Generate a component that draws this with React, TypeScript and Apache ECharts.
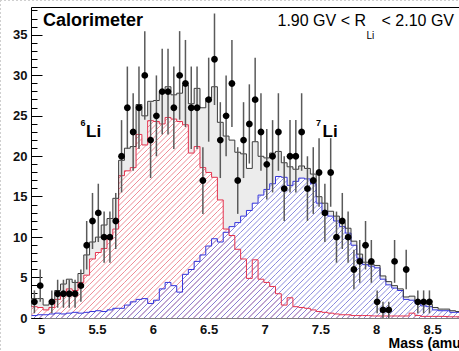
import { useEffect, useRef } from "react";
import * as echarts from "echarts";

// Histogram binning (mass in amu)
const binLow = 4.91;
const binWidth = 0.052;

// Event counts per bin (data points)
const dataCounts = [
  2, 4, 0, 2, 3, 3, 3, 3, 4, 9,
  12, 13, 10, 10, 12, 20, 26, 23, 26, 30,
  22, 25, 28, 28, 26, 30, 29, 26, 26, 17,
  27, 32, 22, 25, 29, 17, 22, 24, 27, 23,
  19, 20, 23, 16, 20, 20, 23, 16, 17, 18,
  13, 18, 10, 12, 10, 6, 7, 9, 7, 2,
  1, 1, 7, 0, 6, 0, 2, 2, 2, 0,
  0, 0, 0, 0, 0,
];

// 6Li template after fit
const li6Template = [
  1.4, 1.3, 1.0, 1.3, 2.3, 3.0, 3.6, 3.4, 4.4, 5.3,
  7.3, 8.1, 8.6, 10.2, 11.0, 17.6, 18.2, 18.6, 22.7, 21.4,
  24.4, 24.3, 24.0, 24.8, 24.6, 24.3, 23.9, 20.4, 21.2, 18.6,
  18.0, 17.4, 14.6, 11.0, 10.2, 8.5, 7.3, 4.9, 7.2, 4.8,
  4.4, 3.9, 3.0, 1.6, 2.5, 1.4, 1.3, 1.2, 1.0, 0.8,
  0.7, 0.6, 0.5, 0.4, 0.4, 0.3, 0.3, 0.3, 0.25, 0.25,
  0.25, 0.25, 0.25, 0.25, 0.25, 0.6, 0.3, 0.2, 0.2, 0.2,
  0.2, 0.15, 0.15, 0.15, 0.15,
];

// 7Li template after fit
const li7Template = [
  0.3, 0.4, 0.4, 0.5, 0.6, 0.5, 0.6, 0.7, 0.6, 0.7,
  0.8, 0.9, 0.8, 1.0, 1.2, 1.2, 1.6, 2.0, 2.3, 2.4,
  1.8, 2.2, 3.6, 4.4, 4.0, 3.2, 5.4, 6.0, 7.0, 7.8,
  8.9, 9.8, 9.4, 10.6, 11.3, 11.8, 12.6, 13.3, 14.2, 15.2,
  15.9, 16.6, 17.5, 17.4, 16.4, 16.9, 17.3, 17.2, 16.6, 14.2,
  13.2, 12.6, 12.0, 11.3, 10.5, 9.0, 7.4, 6.6, 6.4, 6.2,
  4.8, 4.1, 3.7, 3.4, 2.3, 2.2, 1.8, 1.5, 1.4, 1.0,
  0.9, 0.9, 0.7, 0.7, 0.6,
];

// Total fit
const fitTotal = [
  2.4, 2.4, 1.6, 1.8, 3.4, 4.2, 4.8, 4.4, 5.5, 7.8,
  9.4, 10.0, 11.5, 12.3, 14.8, 19.5, 21.0, 21.2, 26.4, 25.0,
  26.8, 26.9, 28.0, 28.6, 27.6, 27.8, 28.8, 26.5, 28.4, 26.0,
  27.2, 28.6, 24.2, 22.5, 22.0, 20.5, 20.3, 18.5, 21.8, 20.0,
  19.8, 20.4, 20.6, 19.2, 18.7, 18.4, 18.8, 18.5, 17.8, 15.0,
  14.2, 13.2, 12.6, 11.8, 11.1, 9.5, 7.9, 6.9, 6.6, 6.5,
  5.2, 4.5, 4.0, 3.6, 2.6, 2.7, 2.1, 1.9, 1.7, 1.3,
  1.1, 1.1, 0.9, 0.8, 0.8,
];

const xTickLabels = [5, 5.5, 6, 6.5, 7, 7.5, 8, 8.5];
const yTickLabels = [0, 5, 10, 15, 20, 25, 30, 35];

const xMin = 4.91;
const xMax = 8.81;
const yMin = 0;
const yMax = 38.4;

const FONT = "'Liberation Sans', Arial, Helvetica, sans-serif";
const HATCH_STEP = 5.5;

function stepPoints(values: number[]) {
  const pts: number[][] = [];
  values.forEach((v, i) => {
    const lo = binLow + i * binWidth;
    pts.push([lo, v], [lo + binWidth, v]);
  });
  return pts;
}

function binData(values: number[]) {
  return values.map((v, i) => [binLow + (i + 0.5) * binWidth, v]);
}

function fillSeries(values: number[], color: string) {
  return {
    type: "line",
    z: 1,
    data: stepPoints(values),
    symbol: "none",
    silent: true,
    lineStyle: { width: 0, opacity: 0 },
    areaStyle: { color, opacity: 1 },
  };
}

function outlineSeries(values: number[], color: string) {
  return {
    type: "line",
    z: 3,
    data: stepPoints(values),
    symbol: "none",
    silent: true,
    lineStyle: { width: 1, color },
  };
}

// Diagonal "/" hatching of each bin, lines continuous from bin to bin
function hatchSeries(values: number[], color: string) {
  return {
    type: "custom",
    z: 2,
    data: binData(values),
    silent: true,
    clip: true,
    renderItem: (_params: any, api: any) => {
      const mid = api.value(0);
      const v = api.value(1);
      const tl = api.coord([mid - binWidth / 2, v]);
      const br = api.coord([mid + binWidth / 2, 0]);
      const x0 = tl[0];
      const x1 = br[0];
      const yT = tl[1];
      const yB = br[1];
      const children: any[] = [];
      const cStart = Math.ceil((x0 + yT) / HATCH_STEP) * HATCH_STEP;
      for (let c = cStart; c <= x1 + yB; c += HATCH_STEP) {
        const xa = Math.max(x0, c - yB);
        const xb = Math.min(x1, c - yT);
        if (xb > xa) {
          children.push({
            type: "line",
            shape: { x1: xa, y1: c - xa, x2: xb, y2: c - xb },
            style: { stroke: color, lineWidth: 0.9 },
          });
        }
      }
      return { type: "group", children };
    },
  };
}

export default function App() {
  const ref = useRef<HTMLDivElement>(null);

  useEffect(() => {
    if (!ref.current) return;
    const chart = echarts.init(ref.current, undefined, { renderer: "svg" });

    const minorX: number[] = [];
    for (let v = 50; v <= 88; v++) minorX.push(v / 10);
    const minorY: number[] = [];
    for (let v = 0; v <= 38; v++) minorY.push(v);

    const points = dataCounts
      .map((n, i) => [binLow + (i + 0.5) * binWidth, n])
      .filter((p) => p[1] > 0);

    const labelStyle = { color: "#111", fontFamily: FONT, fontWeight: "bold", fontSize: 13 };

    chart.setOption({
      animation: false,
      backgroundColor: "#fff",
      grid: {
        left: 31.5,
        top: 7.5,
        right: 7.8,
        bottom: 33,
        show: true,
        borderColor: "#000",
        borderWidth: 1,
        backgroundColor: "transparent",
      },
      xAxis: [
        {
          type: "value",
          min: xMin,
          max: xMax,
          axisLine: { show: false },
          splitLine: { show: false },
          axisTick: { inside: true, length: 9, customValues: xTickLabels, lineStyle: { color: "#000" } },
          axisLabel: { ...labelStyle, margin: 5, customValues: xTickLabels, formatter: (v: number) => String(v) },
        },
        {
          type: "value",
          min: xMin,
          max: xMax,
          position: "bottom",
          axisLine: { show: false },
          splitLine: { show: false },
          axisTick: { inside: true, length: 4.5, customValues: minorX, lineStyle: { color: "#000" } },
          axisLabel: { show: false },
        },
      ],
      yAxis: [
        {
          type: "value",
          min: yMin,
          max: yMax,
          axisLine: { show: false },
          splitLine: { show: false },
          axisTick: { inside: true, length: 11, customValues: yTickLabels, lineStyle: { color: "#000" } },
          axisLabel: { ...labelStyle, margin: 4, customValues: yTickLabels },
        },
        {
          type: "value",
          min: yMin,
          max: yMax,
          position: "left",
          axisLine: { show: false },
          splitLine: { show: false },
          axisTick: { inside: true, length: 6, customValues: minorY, lineStyle: { color: "#000" } },
          axisLabel: { show: false },
        },
      ],
      series: [
        fillSeries(fitTotal, "#ececec"),
        fillSeries(li6Template, "#ffffff"),
        fillSeries(li7Template, "#ffffff"),
        hatchSeries(li6Template, "#ec7f8b"),
        hatchSeries(li7Template, "#7d7dd8"),
        outlineSeries(li7Template, "#3434dc"),
        outlineSeries(li6Template, "#e4324e"),
        outlineSeries(fitTotal, "#3a3a3a"),
        {
          type: "custom",
          z: 4,
          data: points,
          clip: false,
          silent: true,
          renderItem: (_params: any, api: any) => {
            const x = api.value(0);
            const n = api.value(1);
            const err = Math.sqrt(n);
            const c = api.coord([x, n]);
            const hi = api.coord([x, n + err]);
            const lo = api.coord([x, n - err]);
            return {
              type: "group",
              children: [
                {
                  type: "line",
                  shape: { x1: c[0], y1: lo[1], x2: c[0], y2: hi[1] },
                  style: { stroke: "#5a5a5a", lineWidth: 1.5 },
                },
                {
                  type: "circle",
                  shape: { cx: c[0], cy: c[1], r: 3.4 },
                  style: { fill: "#000" },
                },
              ],
            };
          },
        },
      ],
      graphic: [
        {
          type: "line",
          shape: { x1: 0, y1: 0.5, x2: 459, y2: 0.5 },
          style: { stroke: "#cfcfcf", lineWidth: 1, lineDash: [2, 2] },
          silent: true,
        },
        {
          type: "line",
          shape: { x1: 0.5, y1: 0, x2: 0.5, y2: 351 },
          style: { stroke: "#cfcfcf", lineWidth: 1, lineDash: [2, 2] },
          silent: true,
        },
        {
          type: "text",
          x: 43,
          y: 19.8,
          style: { text: "Calorimeter", fontFamily: FONT, fontWeight: "bold", fontSize: 18, fill: "#000", align: "left", verticalAlign: "middle" },
        },
        {
          type: "text",
          x: 366,
          y: 20.5,
          style: { text: "1.90 GV < R", fontFamily: FONT, fontSize: 16, fill: "#000", align: "right", verticalAlign: "middle" },
        },
        {
          type: "text",
          x: 366.5,
          y: 35.5,
          style: { text: "Li", fontFamily: FONT, fontSize: 10, fill: "#000", align: "left", verticalAlign: "middle" },
        },
        {
          type: "text",
          x: 454,
          y: 20.5,
          style: { text: "< 2.10 GV", fontFamily: FONT, fontSize: 16, fill: "#000", align: "right", verticalAlign: "middle" },
        },
        {
          type: "text",
          x: 80.5,
          y: 123,
          style: { text: "6", fontFamily: FONT, fontWeight: "bold", fontSize: 9, fill: "#000", align: "left", verticalAlign: "middle" },
        },
        {
          type: "text",
          x: 86,
          y: 131.5,
          style: { text: "Li", fontFamily: FONT, fontWeight: "bold", fontSize: 17, fill: "#000", align: "left", verticalAlign: "middle" },
        },
        {
          type: "text",
          x: 316,
          y: 123,
          style: { text: "7", fontFamily: FONT, fontWeight: "bold", fontSize: 9, fill: "#000", align: "left", verticalAlign: "middle" },
        },
        {
          type: "text",
          x: 322.5,
          y: 131,
          style: { text: "Li", fontFamily: FONT, fontWeight: "bold", fontSize: 17, fill: "#000", align: "left", verticalAlign: "middle" },
        },
        {
          type: "text",
          x: 465.5,
          y: 343,
          style: { text: "Mass (amu)", fontFamily: FONT, fontWeight: "bold", fontSize: 14, fill: "#000", align: "right", verticalAlign: "middle" },
        },
      ],
    });

    return () => chart.dispose();
  }, []);

  return (
    <div
      style={{
        position: "fixed",
        left: 0,
        top: 0,
        width: 459,
        height: 351,
        overflow: "hidden",
        background: "#fff",
      }}
    >
      <div ref={ref} style={{ width: 475, height: 351 }} />
    </div>
  );
}
